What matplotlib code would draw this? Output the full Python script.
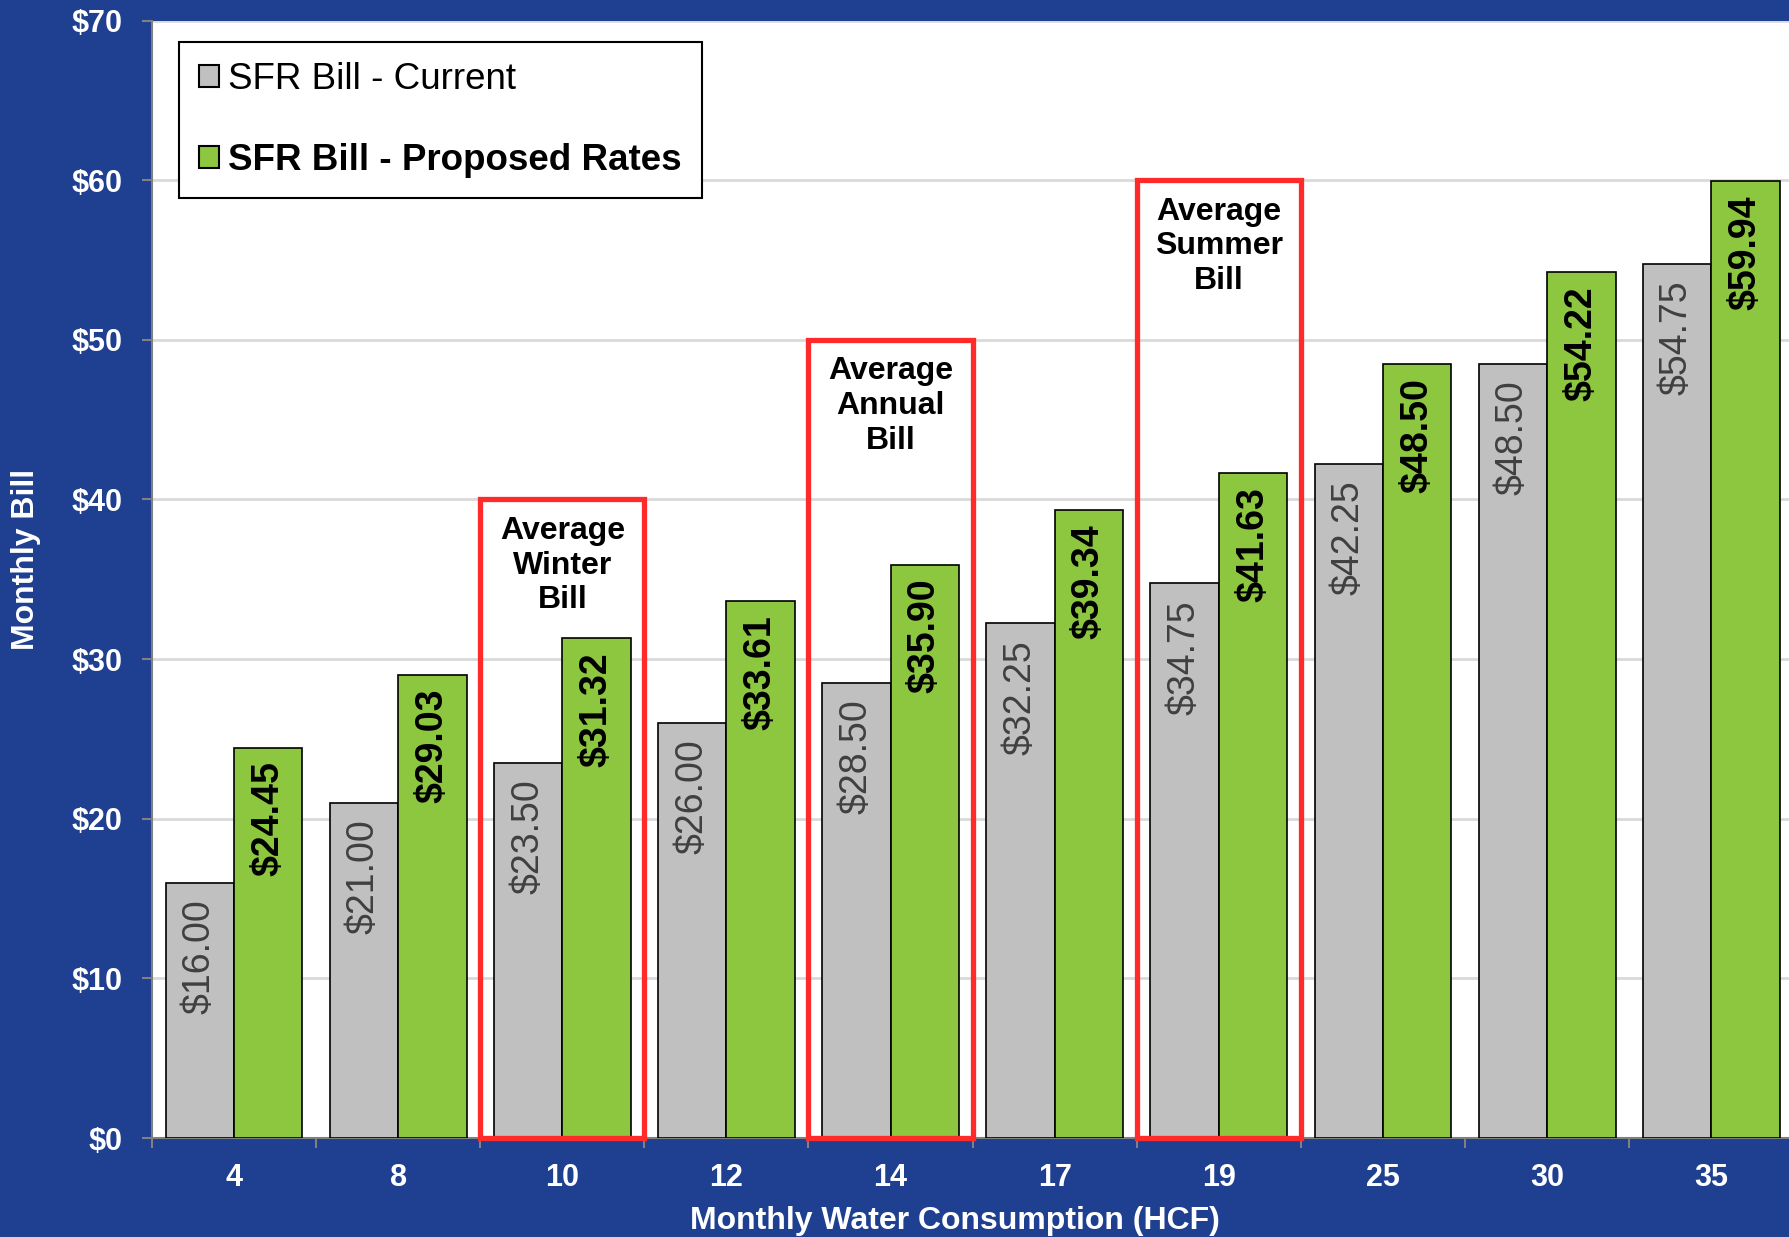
import matplotlib
matplotlib.use("Agg")
import matplotlib.pyplot as plt
from matplotlib.patches import Rectangle, Patch
from matplotlib.ticker import FixedLocator, FuncFormatter
import numpy as np

plt.rcParams['font.family'] = ['Liberation Sans', 'DejaVu Sans']

# data
consumption = ['4', '8', '10', '12', '14', '17', '19', '25', '30', '35']
bill_current = [16.00, 21.00, 23.50, 26.00, 28.50, 32.25, 34.75, 42.25, 48.50, 54.75]
bill_proposed = [24.45, 29.03, 31.32, 33.61, 35.90, 39.34, 41.63, 48.50, 54.22, 59.94]

# highlighted groups: category, box top, caption
box_cats = ['10', '14', '19']
box_tops = [40, 50, 60]
box_texts = ['Average\nWinter\nBill', 'Average\nAnnual\nBill', 'Average\nSummer\nBill']

BLUE = '#1F3F91'
GRAY = '#C0C0C0'
GREEN = '#8DC63F'
RED = '#FF2A2A'

fig = plt.figure(figsize=(17.9, 12.37), dpi=100, facecolor=BLUE)
ax = fig.add_axes([0.0849, 0.080, 0.9151, 0.9034])
ax.set_facecolor('white')

x = np.arange(len(consumption))
w = 0.417
b1 = ax.bar(x - w / 2, bill_current, w, color=GRAY, edgecolor='black', linewidth=1.2, zorder=3)
b2 = ax.bar(x + w / 2, bill_proposed, w, color=GREEN, edgecolor='black', linewidth=1.2, zorder=3)

for rect, v in zip(b1, bill_current):
    ax.annotate(f"${v:.2f}", (rect.get_x() + rect.get_width() / 2, v), xytext=(0, -12),
                textcoords='offset points', rotation=90, ha='center', va='top',
                fontsize=27, color='#404040', zorder=4)
for rect, v in zip(b2, bill_proposed):
    ax.annotate(f"${v:.2f}", (rect.get_x() + rect.get_width() / 2, v), xytext=(0, -10),
                textcoords='offset points', rotation=90, ha='center', va='top',
                fontsize=27, fontweight='bold', color='black', zorder=4)

for cat, top, txt in zip(box_cats, box_tops, box_texts):
    i = consumption.index(cat)
    ax.add_patch(Rectangle((i - 0.5, 0), 1, top, fill=False, edgecolor=RED, linewidth=3.8,
                           zorder=5, clip_on=False))
    ax.annotate(txt, (i, top), xytext=(0, -12), textcoords='offset points', ha='center',
                va='top', fontsize=23, fontweight='bold', linespacing=1.2, zorder=6)

ax.set_ylim(0, 70)
ax.set_xlim(-0.5, 9.48)
ax.yaxis.set_major_locator(FixedLocator(np.arange(0, 71, 10)))
ax.yaxis.set_major_formatter(FuncFormatter(lambda v, p: f"${v:.0f}"))
ax.grid(axis='y', color='#D9D9D9', linewidth=2, zorder=0)
ax.set_axisbelow(True)

# ticks at group boundaries, labels at group centres
ax.xaxis.set_major_locator(FixedLocator(np.arange(-0.5, 10, 1)))
ax.xaxis.set_major_formatter(FuncFormatter(lambda v, p: ''))
ax.xaxis.set_minor_locator(FixedLocator(x))
ax.xaxis.set_minor_formatter(FuncFormatter(lambda v, p: consumption[int(round(v))]))
ax.tick_params(axis='x', which='major', length=7, width=1.5, color='#808080', direction='out')
ax.tick_params(axis='x', which='minor', length=0, pad=18, labelsize=22, labelcolor='white')
ax.tick_params(axis='y', length=7, width=1.5, color='#808080', pad=14, labelsize=22,
               labelcolor='white')
for lab in ax.get_xticklabels(minor=True) + ax.get_yticklabels():
    lab.set_fontweight('bold')

for s in ['top', 'right']:
    ax.spines[s].set_visible(False)
for s in ['left', 'bottom']:
    ax.spines[s].set_color('#808080')
    ax.spines[s].set_linewidth(1.5)

ax.set_xlabel('Monthly Water Consumption (HCF)', fontsize=23, fontweight='bold', color='white')
ax.xaxis.set_label_coords(0.49, -0.061)
ax.set_ylabel('Monthly Bill', fontsize=23, fontweight='bold', color='white')
ax.yaxis.set_label_coords(-0.068, 0.518)

leg = ax.legend(handles=[Patch(facecolor=GRAY, edgecolor='black', linewidth=1.5),
                         Patch(facecolor=GREEN, edgecolor='black', linewidth=1.5)],
                labels=['SFR Bill - Current', 'SFR Bill - Proposed Rates'],
                loc='upper left', bbox_to_anchor=(0.0165, 0.981), borderaxespad=0,
                fontsize=26.5, handlelength=0.53, handleheight=0.53, handletextpad=0.25,
                labelspacing=1.25, borderpad=0.55, fancybox=False, framealpha=1,
                edgecolor='black')
leg.get_frame().set_linewidth(1.5)
leg.get_texts()[1].set_fontweight('bold')
leg.set_zorder(7)

fig.savefig('out.png', dpi=100, facecolor=BLUE)
